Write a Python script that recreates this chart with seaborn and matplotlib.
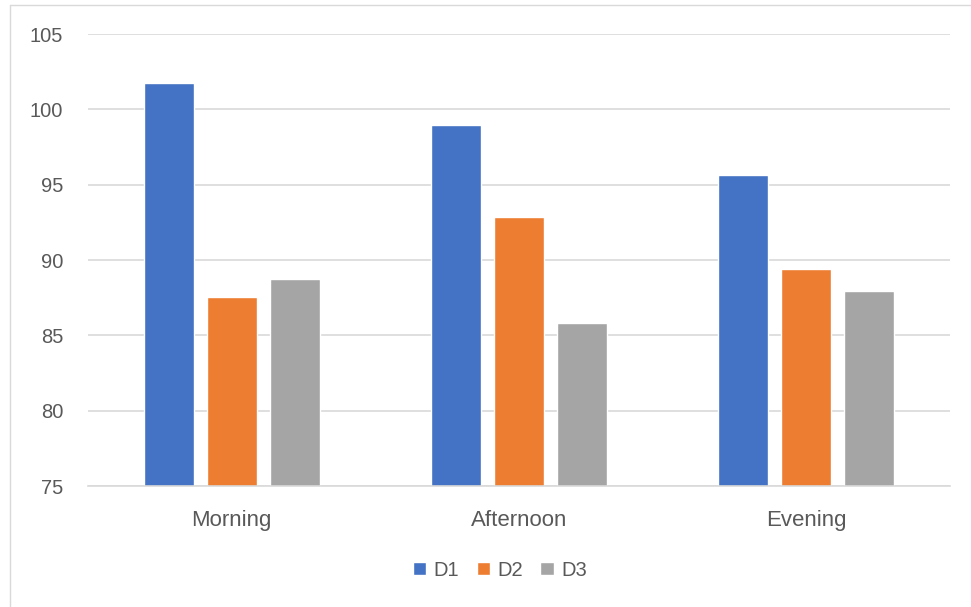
import matplotlib
matplotlib.use("Agg")
import matplotlib.pyplot as plt
import seaborn as sns
import pandas as pd
from matplotlib.lines import Line2D

categories = ["Morning", "Afternoon", "Evening"]
series_names = ["D1", "D2", "D3"]
d1_values = [101.75, 98.95, 95.62]
d2_values = [87.52, 92.83, 89.38]
d3_values = [88.71, 85.79, 87.92]
y_ticks = [75, 80, 85, 90, 95, 100, 105]

colors = ["#4472C4", "#ED7D31", "#A5A5A5"]
text_color = "#595959"

rows = []
for s, vals in zip(series_names, [d1_values, d2_values, d3_values]):
    for c, v in zip(categories, vals):
        rows.append({"category": c, "series": s, "value": v})
df = pd.DataFrame(rows)

sns.set_theme(style="white")
plt.rcParams["font.family"] = ["Liberation Sans", "DejaVu Sans"]

fig = plt.figure(figsize=(9.71, 6.07), dpi=100)
ax = fig.add_axes([88 / 971, 1 - 486 / 607, (950 - 88) / 971, (486 - 34) / 607])

sns.barplot(data=df, x="category", y="value", hue="series", order=categories,
            hue_order=series_names, palette=colors, width=0.658, gap=0.206,
            saturation=1, ax=ax, legend=True, errorbar=None)

ax.set_ylim(75, 105)
ax.set_yticks(y_ticks)
ax.set_yticklabels([str(t) for t in y_ticks])
ax.set_xlim(-0.5, 2.5)
ax.set_xlabel("")
ax.set_ylabel("")
ax.yaxis.grid(True, color="#D9D9D9", linewidth=1.2)
ax.set_axisbelow(True)
for side in ["top", "right", "left"]:
    ax.spines[side].set_visible(False)
ax.spines["bottom"].set_color("#D9D9D9")
ax.spines["bottom"].set_linewidth(1.2)
ax.tick_params(axis="y", length=0, pad=18, labelsize=14.5, labelcolor=text_color)
ax.tick_params(axis="x", length=0, pad=17, labelsize=16, labelcolor=text_color)

handles, labels = ax.get_legend_handles_labels()
ax.get_legend().remove()
fig.legend(handles, labels, loc="center", bbox_to_anchor=(500 / 971, 1 - 570 / 607),
           ncol=3, frameon=False, handlelength=0.65, handleheight=0.65,
           handletextpad=0.4, columnspacing=0.85, fontsize=14.5, labelcolor=text_color)

fig.add_artist(Line2D([10 / 971, 10 / 971], [0, 1 - 5 / 607], transform=fig.transFigure,
                      color="#D9D9D9", linewidth=1))
fig.add_artist(Line2D([10 / 971, 1], [1 - 5 / 607, 1 - 5 / 607], transform=fig.transFigure,
                      color="#D9D9D9", linewidth=1))

fig.savefig("out.png", dpi=100, facecolor="white")
